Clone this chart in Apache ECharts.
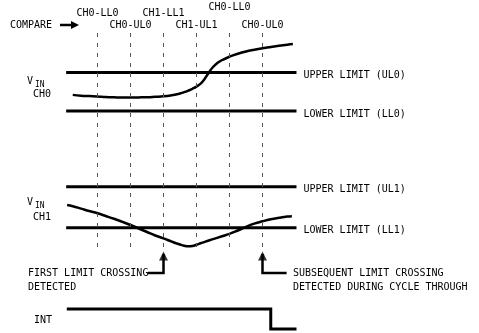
<!DOCTYPE html>
<html><head><meta charset="utf-8">
<script src="https://cdn.jsdelivr.net/npm/echarts@6/dist/echarts.min.js"></script>
<style>html,body{margin:0;padding:0;background:#fff}#c{width:479px;height:333px}</style>
</head><body><div id="c"></div>
<script>
// ---- data (time in compare-cycle units, voltage in limit units) ----
const compareTimes = [1, 2, 3, 4, 5, 6];
const compareLabels = ['CH0-LL0', 'CH0-UL0', 'CH1-LL1', 'CH1-UL1', 'CH0-LL0', 'CH0-UL0'];
const limitSpan = [0.05, 7.03];
const ch0Upper = 1, ch0Lower = 0;
const ch1Upper = 1, ch1Lower = 0;
const ch0Time = [0.25,0.5,0.75,1.0,1.25,1.5,1.75,2.0,2.25,2.5,2.75,3.0,3.25,3.375,3.5,3.625,3.75,3.875,4.0,4.125,4.25,4.375,4.5,4.625,4.75,5.0,5.25,5.5,5.75,6.0,6.25,6.5,6.75,6.92];
const ch0Vin  = [0.42,0.40,0.39,0.38,0.365,0.357,0.352,0.352,0.354,0.359,0.37,0.383,0.409,0.43,0.456,0.49,0.531,0.578,0.635,0.714,0.839,1.003,1.146,1.245,1.315,1.414,1.49,1.55,1.594,1.633,1.667,1.698,1.727,1.745];
const ch1Time = [0.08,0.25,0.5,0.75,1.0,1.25,1.5,1.75,2.0,2.25,2.5,2.75,3.0,3.25,3.5,3.625,3.75,3.875,4.0,4.125,4.25,4.5,4.75,5.0,5.25,5.5,5.75,6.0,6.25,6.5,6.75,6.89];
const ch1Vin  = [0.554,0.524,0.466,0.407,0.351,0.285,0.217,0.144,0.066,-0.02,-0.105,-0.19,-0.261,-0.339,-0.41,-0.44,-0.455,-0.445,-0.415,-0.38,-0.345,-0.28,-0.215,-0.15,-0.068,0.02,0.098,0.156,0.205,0.241,0.271,0.28];
const intTime = [0.07, 6.25, 6.25, 7.03];
const intLevel = [1, 1, 0, 0];
const firstCrossing = 3, subsequentCrossing = 6;
const arrowLevel = -1.105, arrowTipLevel = -0.69, arrowStem = -0.64;
const firstArrowFrom = 2.53, subsequentArrowTo = 6.73;

const FONT = '"DejaVu Sans Mono", monospace';
const chart = echarts.init(document.getElementById('c'), null, {renderer: 'canvas'});

const zip = (a, b) => a.map((v, i) => [v, b[i]]);
const L = 64.5, W = 33 * 7.2;
function ax(n, min, max) { return {gridIndex: n, type: 'value', min, max, show: false}; }
const grids = [
  {left: L, width: W, top: 34.2, height: 115.2},
  {left: L, width: W, top: 145.7, height: 143.5},
  {left: L, width: W, top: 309, height: 20},
  {left: L, width: W, top: 33, height: 214}
];
const xAxes = [0,1,2,3].map(i => ax(i, 0, 7.2));
const yAxes = [ax(0,-1,2), ax(1,-1.5,2), ax(2,0,1), ax(3,0,1)];

function limitLine(gi, level, name) {
  return {type: 'line', xAxisIndex: gi, yAxisIndex: gi, symbol: 'none', z: 3,
    data: [[limitSpan[0], level], [limitSpan[1], level]],
    lineStyle: {color: '#000', width: 3},
    endLabel: {show: true, formatter: name, distance: 7, offset: [0, 3], color: '#000', fontFamily: FONT, fontSize: 10}};
}

const series = [
  {type: 'line', xAxisIndex: 3, yAxisIndex: 3, data: [], z: 1,
    markLine: {silent: true, symbol: ['none','none'], label: {show: false},
      lineStyle: {type: [4,6], color: '#555', width: 1},
      data: compareTimes.map(t => ({xAxis: t}))}},
  limitLine(0, ch0Upper, 'UPPER LIMIT (UL0)'),
  limitLine(0, ch0Lower, 'LOWER LIMIT (LL0)'),
  limitLine(1, ch1Upper, 'UPPER LIMIT (UL1)'),
  limitLine(1, ch1Lower, 'LOWER LIMIT (LL1)'),
  {type: 'line', xAxisIndex: 0, yAxisIndex: 0, symbol: 'none', smooth: 0.5, z: 4, data: zip(ch0Time, ch0Vin), lineStyle: {color: '#000', width: 2.5}},
  {type: 'line', xAxisIndex: 1, yAxisIndex: 1, symbol: 'none', smooth: 0.5, z: 4, data: zip(ch1Time, ch1Vin), lineStyle: {color: '#000', width: 2.5}},
  {type: 'line', xAxisIndex: 1, yAxisIndex: 1, symbol: 'none', z: 4, clip: false,
    data: [[firstArrowFrom, arrowLevel], [firstCrossing, arrowLevel], [firstCrossing, arrowStem]], lineStyle: {color: '#000', width: 2.5, join: 'miter'}},
  {type: 'line', xAxisIndex: 1, yAxisIndex: 1, symbol: 'none', z: 4, clip: false,
    data: [[subsequentArrowTo, arrowLevel], [subsequentCrossing, arrowLevel], [subsequentCrossing, arrowStem]], lineStyle: {color: '#000', width: 2.5, join: 'miter'}},
  {type: 'scatter', xAxisIndex: 1, yAxisIndex: 1, symbol: 'triangle', symbolSize: [9, 9], z: 5,
    itemStyle: {color: '#000'}, data: [[firstCrossing, arrowTipLevel], [subsequentCrossing, arrowTipLevel]]},
  {type: 'line', xAxisIndex: 2, yAxisIndex: 2, symbol: 'none', z: 4, clip: false, data: zip(intTime, intLevel), lineStyle: {color: '#000', width: 3, join: 'miter'}}
];

function txt(text, x, y, opt) {
  opt = opt || {};
  return {type: 'text', x, y, silent: true, style: {text, fill: '#000',
    font: (opt.size || 10) + 'px ' + FONT, align: opt.align || 'left', verticalAlign: 'middle'}};
}
const topRows = [13, 25, 13, 25, 7, 25];
const graphics = [
  txt('COMPARE', 10, 25),
  {type: 'line', silent: true, shape: {x1: 60, y1: 25, x2: 72, y2: 25}, style: {stroke: '#000', lineWidth: 2.5}},
  {type: 'polygon', silent: true, shape: {points: [[71,21],[79,25],[71,29]]}, style: {fill: '#000'}},
  txt('V', 30, 81, {align: 'center'}), txt('IN', 35, 85, {size: 8}), txt('CH0', 42, 94, {align: 'center'}),
  txt('V', 30, 202, {align: 'center'}), txt('IN', 35, 206, {size: 8}), txt('CH1', 42, 217, {align: 'center'}),
  txt('FIRST LIMIT CROSSING', 28, 273), txt('DETECTED', 28, 287),
  txt('SUBSEQUENT LIMIT CROSSING', 293, 273), txt('DETECTED DURING CYCLE THROUGH', 293, 287),
  txt('INT', 43, 320, {align: 'center'})
];
compareTimes.forEach((t, i) => {
  const px = L + t * 33;
  graphics.push(txt(compareLabels[i], px, topRows[i], {align: 'center'}));
});

chart.setOption({animation: false, grid: grids, xAxis: xAxes, yAxis: yAxes, series, graphic: graphics});
</script></body></html>
